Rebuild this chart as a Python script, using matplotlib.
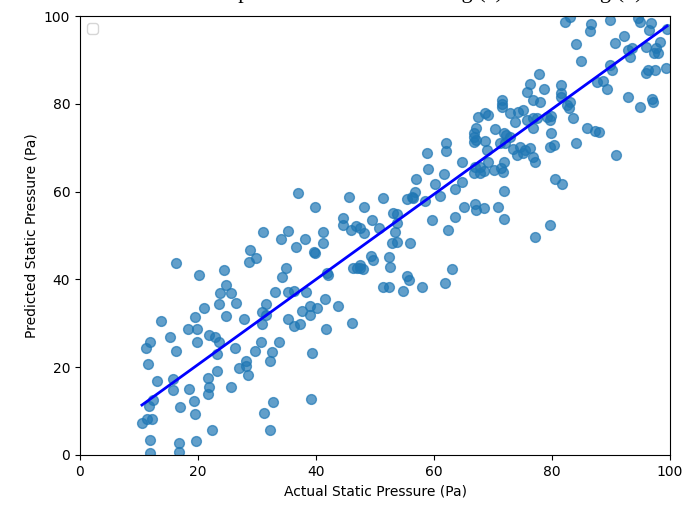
import numpy as np
import matplotlib
matplotlib.use("Agg")
import matplotlib.pyplot as plt

# actual vs predicted static pressure (Pa)
actual = [
    13.8, 21.0, 23.5, 19.5, 24.7, 18.3, 19.9, 19.9, 15.3, 11.8, 11.2, 16.3, 21.8, 22.9, 23.5, 23.2,
    11.6, 13.1, 15.8, 15.8, 18.5, 19.4, 16.9, 19.5, 23.3, 21.7, 21.9, 21.7, 12.4, 11.7, 10.5, 11.3,
    12.2, 11.9, 16.7, 19.7, 22.4, 11.9, 16.8, 25.6,
    16.3, 20.2, 24.4, 24.7, 23.8, 25.6,
    36.9, 39.8, 45.6, 48.2, 44.6, 44.6, 46.7, 46.0, 48.2, 31.1, 35.3, 34.0, 38.1, 41.2, 41.2, 36.6,
    39.7, 39.8, 28.8, 29.8, 28.6, 34.9, 34.3, 33.1, 35.3, 36.3, 38.3, 41.5, 41.8, 42.1, 46.9, 47.5,
    46.3, 49.4, 49.5,
    26.4, 31.5, 30.8, 31.6, 27.8, 30.8, 35.3, 36.3, 37.3, 37.7, 38.9, 39.0, 40.2, 43.8, 46.1, 41.7,
    26.2, 30.6, 33.7, 29.7, 32.5, 32.2, 28.2, 28.2, 27.0, 28.5, 39.3, 32.7, 31.2, 32.2, 39.1,
    71.6, 71.6, 68.6, 69.2, 67.5, 67.1, 66.7, 66.8, 66.7, 67.1, 70.4, 68.6, 72.2, 71.2,
    68.9, 69.2, 67.8, 62.1, 62.1, 58.8, 64.8, 66.9, 66.7, 67.8, 68.4, 70.1, 71.4, 71.9, 71.7, 59.0,
    61.7, 56.9, 60.2, 63.6, 64.7, 56.8, 56.5, 55.4, 56.2, 58.5, 51.4, 61.1, 65.1, 66.9, 67.2, 68.4,
    70.8, 63.6, 62.4, 59.7, 53.1, 53.7, 53.7, 53.4, 53.7, 52.8, 55.9, 50.6, 47.5,
    47.5, 48.0, 49.7, 52.4, 52.5, 51.4, 52.3, 55.4, 55.8, 54.7, 57.9, 63.0, 61.9,
    82.2, 83.1, 86.6, 94.6, 94.9, 96.7, 92.2, 90.7, 84.1, 84.9, 92.9, 93.5, 93.2, 96.0, 98.3, 97.7,
    97.3, 98.0, 89.8, 90.1, 96.3, 97.5, 96.0, 99.3, 77.8, 76.3, 75.7, 76.8, 78.0, 71.5, 78.7, 81.5,
    81.5, 81.6, 82.5, 83.1, 82.8, 87.6, 88.6, 89.4, 92.8, 94.9, 96.9, 97.2, 72.9, 74.3, 75.1, 73.7,
    75.7, 76.8, 77.4, 79.1, 79.7, 79.9, 83.6, 76.8, 79.9, 79.7, 80.3, 85.9, 87.3, 88.0, 84.1, 90.8,
    71.8, 72.9, 72.0, 73.4, 74.6, 75.4, 76.3, 74.0, 75.1, 76.8,
    77.1, 80.5, 81.7, 71.9, 71.9, 79.7, 77.1,
    86.5, 96.5, 89.9, 99.5,
]
predicted = [
    30.6, 33.4, 34.4, 31.4, 31.6, 28.7, 28.6, 25.8, 26.9, 25.8, 24.4, 23.7, 27.3, 26.9, 25.8, 22.9,
    20.7, 16.9, 17.2, 14.8, 15.1, 12.4, 10.9, 9.3, 19.1, 17.5, 15.6, 13.9, 12.5, 11.2, 7.4, 8.2,
    8.2, 3.4, 2.8, 3.2, 5.7, 0.4, 0.75, 15.6,
    43.7, 40.9, 42.1, 38.8, 37.0, 36.8,
    59.6, 56.6, 58.8, 56.5, 54.0, 52.3, 52.2, 51.3, 50.5, 50.7, 51.1, 49.3, 49.3, 50.7, 48.4, 47.4,
    46.3, 45.9, 46.8, 44.8, 43.9, 42.7, 40.6, 37.2, 37.1, 37.4, 37.1, 35.5, 41.4, 41.0, 42.7, 42.5,
    42.5, 45.3, 53.6,
    34.7, 34.5, 32.6, 31.9, 31.0, 29.8, 31.0, 29.4, 29.8, 32.9, 33.9, 31.9, 33.4, 33.9, 30.1, 28.6,
    24.4, 25.8, 25.8, 23.7, 23.4, 21.5, 21.5, 20.3, 19.9, 18.2, 23.2, 12.1, 9.6, 5.8, 12.8,
    80.0, 79.3, 77.8, 77.4, 77.1, 74.4, 73.3, 72.5, 71.4, 71.8, 74.3, 71.6, 72.8, 71.0,
    69.5, 66.8, 65.7, 71.1, 69.3, 68.9, 66.8, 65.7, 64.2, 64.2, 64.8, 64.9, 65.3, 66.8, 64.5, 65.1,
    64.0, 62.9, 61.7, 60.7, 62.3, 59.8, 58.5, 58.3, 58.8, 57.9, 58.6, 59.0, 56.6, 57.2, 55.8, 56.2,
    56.4, 54.3, 51.3, 53.5, 55.1, 54.9, 52.8, 50.9, 48.6, 48.2, 48.2, 51.6, 51.6,
    43.3, 42.3, 44.4, 45.2, 42.9, 38.3, 38.3, 40.8, 39.9, 37.4, 38.3, 42.4, 39.1,
    98.7, 99.8, 98.1, 99.5, 98.7, 98.5, 95.4, 93.8, 93.6, 89.8, 92.3, 92.6, 90.7, 93.0, 94.1, 92.6,
    91.6, 91.5, 88.8, 87.7, 87.7, 87.7, 87.1, 88.1, 86.8, 84.5, 82.8, 80.9, 80.5, 80.9, 83.4, 84.3,
    82.4, 81.5, 79.7, 80.3, 79.0, 85.0, 85.3, 83.4, 81.5, 79.3, 81.2, 80.5, 77.8, 78.2, 78.7, 75.9,
    76.3, 76.7, 76.7, 77.1, 76.3, 77.2, 76.7, 74.4, 73.3, 70.2, 70.6, 74.6, 73.9, 73.6, 71.0, 68.3,
    73.3, 72.5, 71.0, 69.6, 70.2, 69.5, 69.9, 68.3, 68.7, 67.9,
    66.8, 62.9, 61.8, 60.1, 53.7, 52.3, 49.6,
    96.5, 96.9, 99.2, 97.0,
]

# fitted line as drawn in the reference
fit_slope = 0.97
fit_intercept = 1.2

x = np.array(actual)
y = np.array(predicted)
xs = np.array([x.min(), x.max()])

fig = plt.figure(figsize=(6.86, 5.09), dpi=100)
ax = fig.add_axes([80 / 686, 1 - 455 / 509, 590 / 686, 439 / 509])

ax.scatter(x, y, s=50, alpha=0.7, color='tab:blue')
ax.plot(xs, fit_slope * xs + fit_intercept, color='blue', linewidth=2)
ax.set_xlim(0, 100)
ax.set_ylim(0, 100)
ax.set_xlabel('Actual Static Pressure (Pa)')
ax.set_ylabel('Predicted Static Pressure (Pa)')
ax.legend(loc='upper left')

# title sits above the crop, only its lower part shows
fig.text(643 / 686, 1.003, 'Comparison of Model Training (a) and Testing (b)',
         ha='right', va='baseline', fontsize=16, family='Liberation Serif')

fig.savefig('out.png', dpi=100)
